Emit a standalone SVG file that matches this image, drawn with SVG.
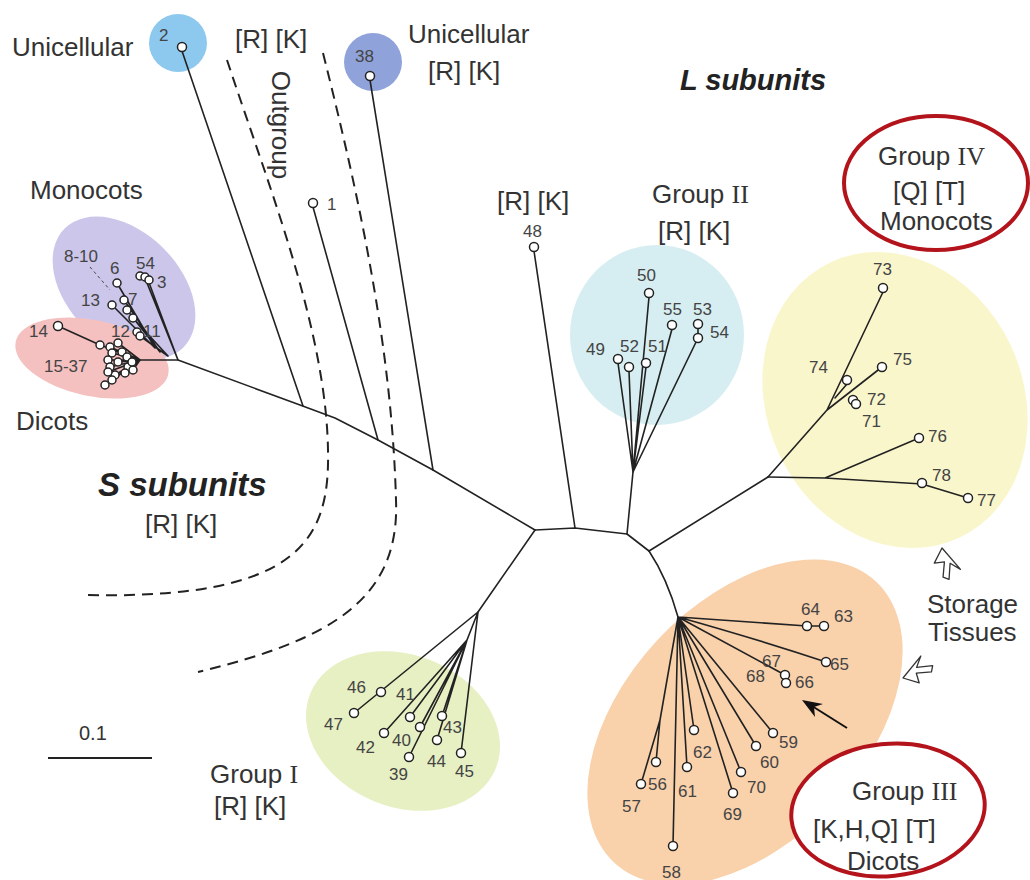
<svg xmlns="http://www.w3.org/2000/svg" width="1030" height="880" viewBox="0 0 1030 880">
<style>
.lbl{font-family:"Liberation Sans",Arial,sans-serif;font-size:26px;fill:#333}
.rom{font-family:"Liberation Serif","Times New Roman",serif}
.big{font-family:"Liberation Sans",Arial,sans-serif;font-weight:bold;font-style:italic;fill:#222}
.num{font-family:"Liberation Sans",Arial,sans-serif;font-size:17px;fill:#444}
.br{fill:none;stroke:#222;stroke-width:1.6;stroke-linecap:round;stroke-linejoin:round}
.leaf{fill:#fff;stroke:#222;stroke-width:1.5}
.dash{fill:none;stroke:#222;stroke-width:2;stroke-dasharray:11 7}
.ring{fill:#fff;stroke:#b3141c;stroke-width:4}
.hollow{fill:#fff;stroke:#333;stroke-width:1.3;stroke-linejoin:round}
</style>
<defs>
<path id="harrow" d="M0,0 L26,-11 L17,-3 L32,3 L28,8 L14,2 L12,12 Z"/>
</defs>
<rect width="1030" height="880" fill="#fff"/>

<!-- clade shading -->
<g id="clades">
<circle id="clade-2" cx="178" cy="43" r="29" fill="#8dc8ee"/>
<circle id="clade-38" cx="373" cy="62" r="29" fill="#8fa3da"/>
<ellipse id="clade-monocots" cx="124" cy="288" rx="84" ry="56" transform="rotate(45 124 288)" fill="#cbc6ea"/>
<ellipse id="clade-dicots" cx="92" cy="358" rx="78" ry="38" transform="rotate(12 92 358)" fill="#f4c0c0"/>
<ellipse id="clade-II" cx="657" cy="335" rx="87" ry="90" fill="#d6eef1"/>
<ellipse id="clade-IV" cx="895" cy="400" rx="128" ry="152" transform="rotate(-25 895 400)" fill="#faf6cc"/>
<ellipse id="clade-I" cx="403" cy="731" rx="100" ry="76" transform="rotate(22 403 731)" fill="#e7f0c3"/>
<ellipse id="clade-III" cx="745" cy="722" rx="192" ry="120" transform="rotate(-47 745 722)" fill="#f9d1ab"/>
</g>

<g id="rings">
<ellipse id="ring-IV" class="ring" cx="936" cy="183" rx="92" ry="67"/>
<ellipse id="ring-III" class="ring" cx="888" cy="810" rx="97" ry="66" transform="rotate(-6 888 810)"/>
</g>

<!-- dashed boundaries -->
<g id="boundaries">
<path class="dash" d="M227,60 C270,190 326,330 328,450 C330,540 300,600 82,595"/>
<path class="dash" d="M323,53 C360,200 392,350 396,500 C400,600 330,640 198,672"/>
</g>

<!-- connectors -->
<g id="connectors">
<path class="br" d="M140,360 L178,360 L300,405 L335,418 L378,440 L433,470 L535,530"/>
<path class="br" d="M182,51 L303,406"/>
<path class="br" d="M313,207 L378,440"/>
<path class="br" d="M370,80 L433,470"/>
<path class="br" d="M535,530 L575,528 L627,534 L649,551"/>
<path class="br" d="M534,251 L575,528"/>
<path class="br" d="M627,534 L633,472"/>
<path class="br" d="M633,472 L618,363 M633,472 L629,371 M633,472 L646,367 M633,472 L649,297 M633,472 L672,329 M633,472 L698,338 L698,328"/>
<path class="br" d="M649,551 L768,477"/>
<path class="br" d="M768,477 L825,478 L922,484 L968,498 M825,478 L919,438"/>
<path class="br" d="M768,477 L827,410 L883,292 M835,398 L847,384 M827,410 L882,367"/>
<path class="br" d="M649,551 Q667,578 678,617"/>
<path class="br" d="M678,617 L807,626 L824,626 M678,617 Q760,640 826,662 M678,617 L785,675 M678,617 L773,733 M678,617 L756,746 M678,617 L741,772 M678,617 L733,793 M678,617 L694,730 M678,617 L687,767 M678,617 L673,846 M678,617 L660,720 L656,762 M660,720 L641,784"/>
<path class="br" d="M535,530 L478,612"/>
<path class="br" d="M478,612 L354,713 M478,612 L461,753 M478,612 L467,640 M467,640 L442,716 M467,640 L437,740 M467,640 L420,727 M467,640 L409,757 M467,640 L410,717 M467,640 L384,733"/>
<!-- S subunit cluster -->
<path class="br" d="M178,360 L148,280 M178,360 L145,278"/>
<path class="br" d="M168,356 L140,336 M168,356 L133,318 M160,352 L127,310 M160,352 L124,300 M155,348 L117,283 M155,348 L112,305"/>
<path class="br" d="M58,326 L100,345"/>
<path class="br" d="M140,360 L100,345 M140,360 L110,347 M140,360 L118,343 M140,360 L122,352 M140,360 L112,353 M140,360 L108,360 M140,360 L110,367 M140,360 L118,362 M140,360 L127,357 M140,360 L128,367 M140,360 L133,370 M140,360 L125,373 M140,360 L115,375 M140,360 L108,372 M140,360 L112,380 M140,360 L105,385 M140,360 L132,362"/>
<path d="M90,267 L110,290" fill="none" stroke="#444" stroke-width="1" stroke-dasharray="3 3"/>
</g>

<!-- leaves -->
<g id="n2"><circle class="leaf" cx="182" cy="47" r="4.5"/><text class="num" x="159" y="41">2</text></g>
<g id="n1"><circle class="leaf" cx="313" cy="203" r="4.5"/><text class="num" x="327" y="210">1</text></g>
<g id="n38"><circle class="leaf" cx="370" cy="76" r="4.5"/><text class="num" x="355" y="62">38</text></g>
<g id="n48"><circle class="leaf" cx="534" cy="247" r="4.5"/><text class="num" x="523" y="237">48</text></g>
<g id="n50"><circle class="leaf" cx="649" cy="293" r="4.5"/><text class="num" x="637" y="281">50</text></g>
<g id="n55"><circle class="leaf" cx="672" cy="325" r="4.5"/><text class="num" x="663" y="315">55</text></g>
<g id="n53"><circle class="leaf" cx="698" cy="324" r="4.5"/><text class="num" x="693" y="315">53</text></g>
<g id="n54"><circle class="leaf" cx="698" cy="338" r="4.5"/><text class="num" x="710" y="338">54</text></g>
<g id="n49"><circle class="leaf" cx="618" cy="359" r="4.5"/><text class="num" x="586" y="355">49</text></g>
<g id="n52"><circle class="leaf" cx="629" cy="367" r="4.5"/><text class="num" x="620" y="352">52</text></g>
<g id="n51"><circle class="leaf" cx="646" cy="363" r="4.5"/><text class="num" x="648" y="352">51</text></g>
<g id="n73"><circle class="leaf" cx="883" cy="288" r="4.5"/><text class="num" x="873" y="275">73</text></g>
<g id="n74"><circle class="leaf" cx="847" cy="380" r="4.5"/><text class="num" x="809" y="373">74</text></g>
<g id="n75"><circle class="leaf" cx="882" cy="367" r="4.5"/><text class="num" x="893" y="365">75</text></g>
<g id="n72"><circle class="leaf" cx="853" cy="400" r="4.5"/><text class="num" x="867" y="405">72</text></g>
<g id="n71"><circle class="leaf" cx="856" cy="404" r="4.5"/><text class="num" x="862" y="427">71</text></g>
<g id="n76"><circle class="leaf" cx="919" cy="438" r="4.5"/><text class="num" x="928" y="442">76</text></g>
<g id="n78"><circle class="leaf" cx="922" cy="483" r="4.5"/><text class="num" x="932" y="481">78</text></g>
<g id="n77"><circle class="leaf" cx="968" cy="498" r="4.5"/><text class="num" x="977" y="506">77</text></g>
<g id="n46"><circle class="leaf" cx="381" cy="692" r="4.5"/><text class="num" x="347" y="693">46</text></g>
<g id="n47"><circle class="leaf" cx="354" cy="713" r="4.5"/><text class="num" x="324" y="730">47</text></g>
<g id="n41"><circle class="leaf" cx="410" cy="717" r="4.5"/><text class="num" x="396" y="700">41</text></g>
<g id="n42"><circle class="leaf" cx="384" cy="733" r="4.5"/><text class="num" x="356" y="753">42</text></g>
<g id="n40"><circle class="leaf" cx="420" cy="727" r="4.5"/><text class="num" x="392" y="746">40</text></g>
<g id="n43"><circle class="leaf" cx="442" cy="716" r="4.5"/><text class="num" x="443" y="733">43</text></g>
<g id="n44"><circle class="leaf" cx="437" cy="740" r="4.5"/><text class="num" x="427" y="767">44</text></g>
<g id="n39"><circle class="leaf" cx="409" cy="757" r="4.5"/><text class="num" x="389" y="780">39</text></g>
<g id="n45"><circle class="leaf" cx="461" cy="753" r="4.5"/><text class="num" x="455" y="777">45</text></g>
<g id="n64"><circle class="leaf" cx="807" cy="626" r="4.5"/><text class="num" x="801" y="615">64</text></g>
<g id="n63"><circle class="leaf" cx="824" cy="626" r="4.5"/><text class="num" x="834" y="622">63</text></g>
<g id="n65"><circle class="leaf" cx="826" cy="662" r="4.5"/><text class="num" x="830" y="670">65</text></g>
<g id="n67"><circle class="leaf" cx="785" cy="675" r="4.5"/><text class="num" x="762" y="667">67</text></g>
<g id="n68"><circle class="leaf" cx="786" cy="683" r="4.5"/><text class="num" x="746" y="682">68</text></g>
<g id="n66"><text class="num" x="795" y="688">66</text></g>
<g id="n59"><circle class="leaf" cx="773" cy="733" r="4.5"/><text class="num" x="779" y="748">59</text></g>
<g id="n60"><circle class="leaf" cx="756" cy="746" r="4.5"/><text class="num" x="760" y="768">60</text></g>
<g id="n70"><circle class="leaf" cx="741" cy="772" r="4.5"/><text class="num" x="747" y="793">70</text></g>
<g id="n69"><circle class="leaf" cx="733" cy="793" r="4.5"/><text class="num" x="723" y="820">69</text></g>
<g id="n62"><circle class="leaf" cx="694" cy="730" r="4.5"/><text class="num" x="693" y="758">62</text></g>
<g id="n61"><circle class="leaf" cx="687" cy="767" r="4.5"/><text class="num" x="678" y="797">61</text></g>
<g id="n56"><circle class="leaf" cx="656" cy="762" r="4.5"/><text class="num" x="648" y="790">56</text></g>
<g id="n57"><circle class="leaf" cx="641" cy="784" r="4.5"/><text class="num" x="622" y="812">57</text></g>
<g id="n58"><circle class="leaf" cx="673" cy="846" r="4.5"/><text class="num" x="662" y="878">58</text></g>

<!-- monocots / dicots cluster -->
<g id="n3-5"><circle class="leaf" cx="140" cy="276" r="4"/><circle class="leaf" cx="145" cy="277" r="4"/><circle class="leaf" cx="149" cy="280" r="4"/><text class="num" x="136" y="269">54</text><text class="num" x="157" y="288">3</text></g>
<g id="n6"><circle class="leaf" cx="117" cy="283" r="4"/><text class="num" x="110" y="274">6</text></g>
<g id="n8-10"><text class="num" x="64" y="262">8-10</text></g>
<g id="n13"><circle class="leaf" cx="112" cy="305" r="4"/><text class="num" x="81" y="306">13</text></g>
<g id="n7"><circle class="leaf" cx="124" cy="300" r="4"/><circle class="leaf" cx="127" cy="310" r="4"/><circle class="leaf" cx="133" cy="318" r="4"/><text class="num" x="128" y="305">7</text></g>
<g id="n11-12"><circle class="leaf" cx="137" cy="332" r="4"/><circle class="leaf" cx="140" cy="336" r="4"/><text class="num" x="111" y="337">12</text><text class="num" x="143" y="337">11</text></g>
<g id="n14"><circle class="leaf" cx="58" cy="326" r="4.5"/><text class="num" x="29" y="337">14</text></g>
<g id="n15-37">
<circle class="leaf" cx="100" cy="345" r="4"/><circle class="leaf" cx="110" cy="347" r="4"/><circle class="leaf" cx="118" cy="343" r="4"/><circle class="leaf" cx="122" cy="352" r="4"/><circle class="leaf" cx="112" cy="353" r="4"/><circle class="leaf" cx="108" cy="360" r="4"/><circle class="leaf" cx="110" cy="367" r="4"/><circle class="leaf" cx="118" cy="362" r="4"/><circle class="leaf" cx="127" cy="357" r="4"/><circle class="leaf" cx="128" cy="367" r="4"/><circle class="leaf" cx="133" cy="370" r="4"/><circle class="leaf" cx="125" cy="373" r="4"/><circle class="leaf" cx="115" cy="375" r="4"/><circle class="leaf" cx="108" cy="372" r="4"/><circle class="leaf" cx="112" cy="380" r="4"/><circle class="leaf" cx="105" cy="385" r="4"/><circle class="leaf" cx="132" cy="362" r="4"/>
<text class="num" x="44" y="372">15-37</text></g>

<!-- pointers -->
<g id="arrow-black">
<path d="M847,728 L812,706" stroke="#111" stroke-width="2" fill="none"/>
<polygon points="802,700 823,704 814,707 815,717" fill="#111"/>
</g>
<g id="arrow-storage-1"><use href="#harrow" class="hollow" transform="translate(942,548) rotate(72)"/></g>
<g id="arrow-storage-2"><use href="#harrow" class="hollow" transform="translate(903,678) rotate(-28)"/></g>

<!-- labels -->
<g id="labels">
<text class="lbl" x="12" y="56">Unicellular</text>
<text class="lbl" x="235" y="48">[R] [K]</text>
<text class="lbl" x="408" y="43">Unicellular</text>
<text class="lbl" x="428" y="80">[R] [K]</text>
<text class="lbl" transform="translate(272,125) rotate(90)" text-anchor="middle">Outgroup</text>
<text class="big" x="680" y="90" style="font-size:29px">L subunits</text>
<text class="lbl" x="497" y="210">[R] [K]</text>
<text class="lbl" x="652" y="203">Group <tspan class="rom">II</tspan></text>
<text class="lbl" x="658" y="240">[R] [K]</text>
<text class="lbl" x="878" y="165">Group <tspan class="rom">IV</tspan></text>
<text class="lbl" x="893" y="200">[Q] [T]</text>
<text class="lbl" x="880" y="230">Monocots</text>
<text class="lbl" x="30" y="199">Monocots</text>
<text class="lbl" x="16" y="430">Dicots</text>
<text class="big" x="98" y="496" style="font-size:33px">S subunits</text>
<text class="lbl" x="145" y="533">[R] [K]</text>
<text class="lbl" x="210" y="783">Group <tspan class="rom">I</tspan></text>
<text class="lbl" x="214" y="815">[R] [K]</text>
<text class="lbl" x="927" y="613">Storage</text>
<text class="lbl" x="928" y="641">Tissues</text>
<text class="lbl" x="852" y="800">Group <tspan class="rom">III</tspan></text>
<text class="lbl" x="813" y="838">[K,H,Q] [T]</text>
<text class="lbl" x="847" y="870">Dicots</text>
</g>

<g id="scale">
<line x1="48" y1="758" x2="152" y2="758" stroke="#222" stroke-width="2"/>
<text class="lbl" x="79" y="740" style="font-size:20px">0.1</text>
</g>
</svg>
